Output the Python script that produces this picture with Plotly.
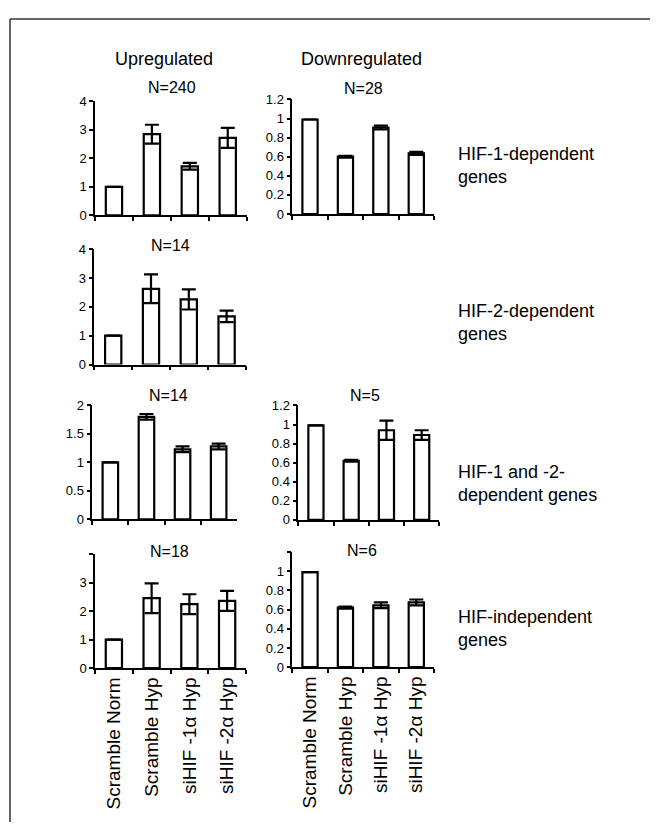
import plotly.graph_objects as go

# Page is 658x838; the HTML body has an 8px margin, so the figure is 642x822
PAGE_W, PAGE_H = 658, 838
OFF = 8
W, H = PAGE_W - 2 * OFF, PAGE_H - 2 * OFF

categories = ["Scramble Norm", "Scramble Hyp", "siHIF -1α Hyp", "siHIF -2α Hyp"]

up_hif1 = [1.0, 2.85, 1.72, 2.72]
up_hif1_err = [0, 0.33, 0.12, 0.35]
down_hif1 = [0.99, 0.60, 0.905, 0.635]
down_hif1_err = [0, 0.01, 0.02, 0.015]
up_hif2 = [1.0, 2.63, 2.26, 1.67]
up_hif2_err = [0, 0.5, 0.35, 0.2]
up_hif12 = [1.0, 1.8, 1.23, 1.28]
up_hif12_err = [0, 0.05, 0.05, 0.05]
down_hif12 = [0.99, 0.62, 0.94, 0.89]
down_hif12_err = [0, 0.01, 0.1, 0.05]
up_indep = [1.0, 2.45, 2.24, 2.36]
up_indep_err = [0, 0.52, 0.35, 0.35]
down_indep = [0.99, 0.62, 0.645, 0.675]
down_indep_err = [0, 0.01, 0.03, 0.03]

up_ticks = [0, 1, 2, 3, 4]
down_ticks = [0, 0.2, 0.4, 0.6, 0.8, 1, 1.2]
mid_ticks = [0, 0.5, 1, 1.5, 2]

n_labels = ["N=240", "N=28", "N=14", "N=14", "N=5", "N=18", "N=6"]
col_titles = ["Upregulated", "Downregulated"]
row_labels = [["HIF-1-dependent", "genes"], ["HIF-2-dependent", "genes"],
              ["HIF-1 and -2-", "dependent genes"], ["HIF-independent", "genes"]]

FONT = "Liberation Sans, Arial, Helvetica, sans-serif"


def fx(px):
    return (px - OFF) / W


def fy(py):
    return 1 - (py - OFF) / H


down_text = ["0", "0.2", "0.4", "0.6", "0.8", "1", "1.2"]
# panel: (values, errors, x0, x1, ytop, ybottom, yrange, tickvals, ticktext, show x labels)
panels = [
    (up_hif1, up_hif1_err, 95, 246.7, 96, 212, [0, 4], up_ticks, [str(v) for v in up_ticks], False),
    (down_hif1, down_hif1_err, 292.3, 434, 94, 210.7, [0, 1.2], down_ticks, down_text, False),
    (up_hif2, up_hif2_err, 94.3, 245.5, 246.7, 364, [0, 4], up_ticks, [str(v) for v in up_ticks], False),
    (up_hif12, up_hif12_err, 92.3, 236.7, 405.7, 521.7, [0, 2], mid_ticks, ["0", "0.5", "1", "1.5", "2"], False),
    (down_hif12, down_hif12_err, 298.3, 439.3, 405.7, 522.3, [0, 1.2], down_ticks, down_text, False),
    (up_indep, up_indep_err, 95, 246, 557, 673.3, [0, 4], up_ticks, ["0", "1", "2", "3", ""], True),
    (down_indep, down_indep_err, 292.3, 434, 555, 672.3, [0, 1.2], down_ticks, down_text[:-1] + [""], True),
]

fig = go.Figure()
layout = {}
for i, (vals, errs, x0, x1, yt, yb, yr, tv, tt, showx) in enumerate(panels):
    k = "" if i == 0 else str(i + 1)
    fig.add_trace(go.Bar(
        x=categories, y=vals, xaxis="x" + k, yaxis="y" + k,
        width=0.43,
        marker=dict(color="white", line=dict(color="black", width=2.2)),
        error_y=dict(type="data", array=errs, visible=True, color="black",
                     thickness=2.2, width=7),
        showlegend=False, hoverinfo="skip",
    ))
    layout["xaxis" + k] = dict(
        domain=[fx(x0), fx(x1)], anchor="y" + k, type="category",
        range=[-0.5, 3.5], showline=True, linecolor="black", linewidth=1.5,
        ticks="outside", tickson="boundaries", ticklen=4, tickcolor="black",
        tickwidth=1.5, showgrid=False, zeroline=False, showticklabels=showx,
        tickangle=-90, tickfont=dict(family=FONT, size=19, color="black"),
        fixedrange=True,
    )
    layout["yaxis" + k] = dict(
        domain=[fy(yb), fy(yt)], anchor="x" + k, range=yr,
        showline=True, linecolor="black", linewidth=1.5,
        ticks="outside", ticklen=4, tickcolor="black", tickwidth=1.5,
        tickvals=tv, ticktext=tt, showgrid=False, zeroline=False,
        tickfont=dict(family=FONT, size=13, color="black"),
        fixedrange=True,
    )

annotations = []


def add_text(text, x, y, size, xanchor="center"):
    annotations.append(dict(text=text, x=fx(x), y=fy(y), xref="paper", yref="paper",
                            xanchor=xanchor, yanchor="middle", showarrow=False,
                            align="left" if xanchor == "left" else "center",
                            font=dict(family=FONT, size=size, color="black")))


add_text(col_titles[0], 164, 53, 18)
add_text(col_titles[1], 362, 53, 18)

n_pos = [(172, 82), (363, 83), (171, 243), (168, 396), (365, 396), (170, 554), (362, 553)]
for lab, (x, y) in zip(n_labels, n_pos):
    add_text(lab, x, y, 16)

row_y = [161, 321, 485, 633]
for lines, y in zip(row_labels, row_y):
    add_text("<br>".join(lines), 456, y, 18, "left")

shapes = [
    dict(type="line", xref="paper", yref="paper", x0=fx(10), x1=1, y0=fy(12), y1=fy(12),
         line=dict(color="#333333", width=1.5)),
    dict(type="line", xref="paper", yref="paper", x0=fx(10), x1=fx(10), y0=fy(12), y1=0,
         line=dict(color="#333333", width=1.5)),
]

fig.update_layout(
    width=W, height=H, autosize=False, margin=dict(l=0, r=0, t=0, b=0),
    paper_bgcolor="white", plot_bgcolor="white",
    bargap=0.5, annotations=annotations, shapes=shapes,
    font=dict(family=FONT, color="black"),
    **layout,
)

fig.write_html("out.html")
